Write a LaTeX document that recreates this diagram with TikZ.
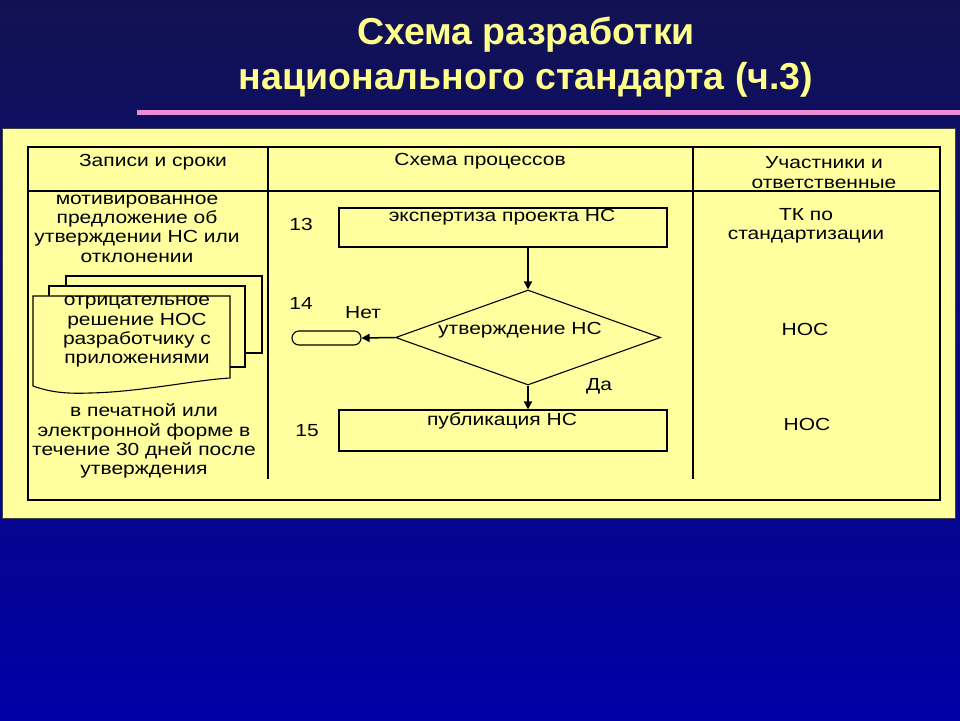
\documentclass[tikz,border=0pt]{standalone}
\usepackage{fontspec}
\setmainfont{Liberation Sans}[FakeStretch=1.2]
\newfontfamily\titlefont{Liberation Sans}
\usetikzlibrary{shapes.geometric,arrows.meta}
\definecolor{slidetop}{RGB}{18,18,82}
\definecolor{slidebottom}{RGB}{0,0,168}
\definecolor{titleyellow}{RGB}{255,255,140}
\definecolor{panelyellow}{RGB}{255,255,160}
\definecolor{rulepink}{RGB}{235,140,215}

\begin{document}
\begin{tikzpicture}[x=1pt,y=-1pt,
    body/.style={font=\fontsize{17.5}{19.3}\selectfont, inner sep=0pt, align=center},
    procbox/.style={draw=black, line width=1.1pt, minimum width=328pt, inner sep=0pt},
    decide/.style={diamond, draw=black, line width=1.1pt, minimum width=265pt, minimum height=95pt, inner sep=0pt},
    flow/.style={line width=1.5pt, -{Triangle[length=8pt,width=8pt]}}]
  \useasboundingbox (0,0) rectangle (960,720);
  % Blue slide background with pink rule under the title
  \shade[top color=slidetop, bottom color=slidebottom] (0,0) rectangle (960,720);
  \fill[rulepink] (137,110) rectangle (960,115);
  \node[font=\titlefont\bfseries\fontsize{37.5}{45}\selectfont, text=titleyellow, align=center, inner sep=0pt]
    (title) at (526,57) {Схема разработки\\национального стандарта (ч.3)};
  % Yellow panel and table frame
  \fill[panelyellow, draw=black!75, line width=0.8pt] (2,128) rectangle (955,518);
  \draw[black, line width=1.1pt] (28,147) rectangle (940,500);
  \draw[black, line width=1.1pt] (28,191) -- (940,191);
  \draw[black, line width=1.1pt] (268,147) -- (268,479);
  \draw[black, line width=1.1pt] (693,147) -- (693,479);
  % Column headers
  \node[body] (hrec) at (153,162) {Записи и сроки};
  \node[body] (hproc) at (480,161) {Схема процессов};
  \node[body] (hpart) at (824,172.5) {Участники и\\ответственные};
  % Records column
  \node[body] (recmotiv) at (137,228.5) {мотивированное\\предложение об\\утверждении НС или\\отклонении};
  % Stack of documents: back, middle, front with wavy bottom
  \draw[black, line width=1.1pt] (66,286) -- (66,276) -- (262,276) -- (262,353) -- (245,353);
  \draw[black, line width=1.1pt] (49,296) -- (49,286) -- (245,286) -- (245,367) -- (230,367);
  \draw[black, line width=1.1pt] (33,386) -- (33,296) -- (230,296) -- (230,378)
    .. controls (195,380) and (140,392) .. (90,393)
    .. controls (65,394) and (50,392) .. (33,386);
  \node[body] (recdoc) at (137,332) {отрицательное\\решение НОС\\разработчику с\\приложениями};
  \node[body] (recpub) at (144,441) {в печатной или\\электронной форме в\\течение 30 дней после\\утверждения};
  % Process column
  \node[body] (n13) at (301,224) {13};
  \node[body] (n14) at (301,303) {14};
  \node[body] (n15) at (307,431) {15};
  \node[procbox, minimum height=39pt] (expert) at (503,227.5) {};
  \node[body] (experttxt) at (502,217) {экспертиза проекта НС};
  \node[decide] (approve) at (528,337.5) {};
  \node[body] (approvetxt) at (520,330) {утверждение НС};
  \node[draw=black, line width=1.1pt, rounded corners=7pt, minimum width=69pt, minimum height=14pt, inner sep=0pt]
    (stop) at (326.5,338) {};
  \node[procbox, minimum height=41pt] (publish) at (503,430.5) {};
  \node[body] (publishtxt) at (502,421) {публикация НС};
  \node[body] (no) at (363,313) {Нет};
  \node[body] (yes) at (599,386) {Да};
  \draw[flow] (approve.north |- expert.south) -- (approve.north);
  \draw[flow] (approve.west) -- (stop.east);
  \draw[flow] (approve.south) -- (approve.south |- publish.north);
  % Participants column
  \node[body] (ptk) at (806,226) {ТК по\\стандартизации};
  \node[body] (pnos1) at (805,329) {НОС};
  \node[body] (pnos2) at (807,424) {НОС};
\end{tikzpicture}
\end{document}
